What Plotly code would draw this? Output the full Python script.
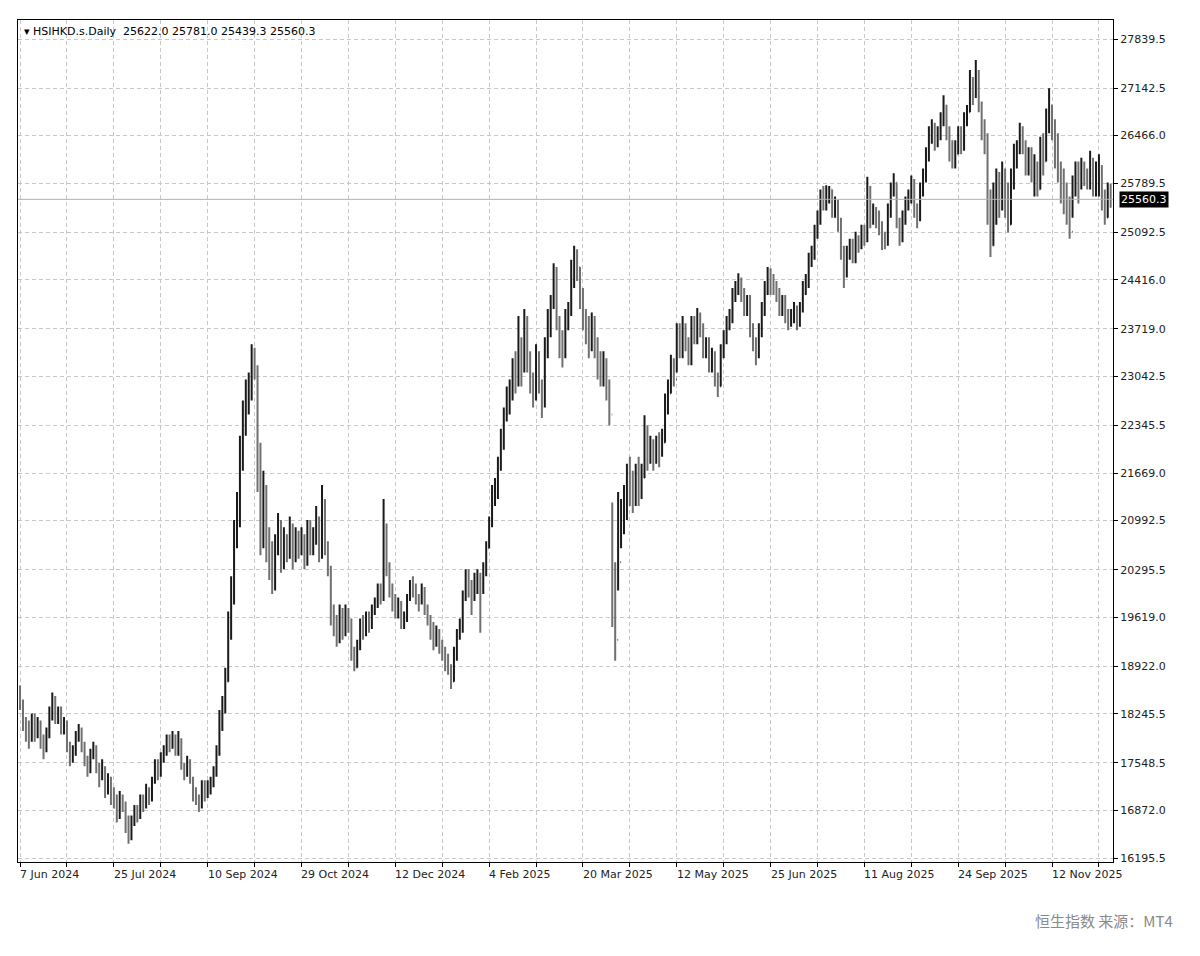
import plotly.graph_objects as go

close = [
18400,18100,18000,17900,18150,18000,18100,17800,17750,17950,18200,18450,18200,18300,18050,18100,17800,17600,17700,17900,18000,17800,17600,17450,17650,17750,17500,17350,17450,17150,17300,17100,
17000,16800,17050,16950,16700,16500,16700,16850,16800,17000,16950,17150,17050,17300,17500,17400,17650,17700,17850,17800,17900,17700,17850,17500,17400,17550,17300,17100,17050,16950,17200,17100,
17150,17250,17400,17700,18100,18300,18700,19500,19900,20700,21050,21900,22300,22700,22800,23300,23100,22000,20900,21400,20800,20500,20100,20600,20900,20400,20700,20600,20900,20450,20700,20600,
20700,20400,20900,20600,20750,21000,20500,21200,20600,20300,19600,19500,19300,19700,19400,19650,19500,19100,18900,19200,19500,19450,19600,19500,19700,19800,20000,19900,20900,20300,20000,19900,
19700,19800,19500,19600,19900,20100,20050,19900,19850,20000,19700,19600,19500,19300,19400,19200,19100,19000,18900,18700,19100,19350,19500,19900,20200,20050,19900,20100,20200,20000,20350,20600,
21000,21400,21500,21800,22100,22500,22700,22900,23200,23000,23500,23200,23800,23300,23000,22800,23300,22900,22700,23500,23800,24100,24500,23800,23500,23400,23800,24000,24500,24700,24600,24200,
23900,23700,23600,23800,23500,23300,23100,23200,22900,22500,20200,19300,20400,20900,21100,21600,21500,21300,21700,21400,21600,22300,21900,22000,21900,22100,21950,22100,22600,22800,23200,23000,
23600,23400,23700,23500,23300,23800,23600,23900,23700,23400,23500,23200,23300,23000,22900,23400,23600,23800,23900,24200,24300,24400,24200,24000,24100,23700,23500,23400,23700,24000,24300,24500,
24400,24300,24200,24000,24100,23900,23800,23900,24000,23800,24000,24300,24400,24700,24800,25100,25300,25600,25500,25650,25700,25400,25500,25200,24800,24500,24800,24900,24700,25000,24900,25100,
25000,25700,25300,25400,25300,25200,25000,24950,25400,25700,25800,25200,25000,25300,25500,25600,25800,25400,25300,25700,25900,26200,26500,26550,26400,26500,26700,26900,26500,26300,26100,26200,
26500,26300,26700,26800,27200,27100,27300,26900,26500,26400,25500,24900,25300,25800,25600,25900,25500,25200,25800,26100,26300,26500,26300,26000,26200,25900,26000,25700,26300,26100,26700,26900,
26600,26300,26000,25900,25700,25400,25100,25700,25900,25800,26000,25900,25800,26100,25700,25900,26000,25500,25300,25600,25560.3]

high = [
18650,18450,18200,18150,18250,18250,18200,18150,17950,18050,18350,18550,18500,18350,18350,18200,18150,17850,17800,18000,18100,18050,17850,17650,17750,17850,17800,17550,17600,17500,17400,17350,
17200,17100,17150,17100,17000,16800,16800,16950,16950,17100,17100,17250,17200,17350,17600,17600,17700,17800,17950,17950,18000,17950,18000,17900,17550,17650,17600,17350,17200,17100,17300,17300,
17300,17350,17500,17800,18300,18500,18900,19700,20200,21000,21400,22200,22700,23000,23100,23500,23450,23200,22100,21700,21500,20900,20700,20800,21100,21000,20900,20800,21050,20950,20900,20850,
20900,20800,21000,21000,20900,21200,21050,21500,21300,20700,20350,19800,19650,19800,19750,19800,19750,19600,19200,19300,19600,19650,19700,19700,19800,19900,20100,20100,21300,20950,20400,20100,
19950,19900,19850,19700,19950,20150,20200,20100,19950,20100,20050,19800,19650,19550,19500,19450,19300,19200,19100,18950,19200,19450,19600,20000,20300,20300,20150,20250,20300,20250,20400,20700,
21050,21500,21600,21900,22300,22600,22900,23000,23300,23400,23900,23600,24000,23900,23400,23100,23500,23400,23000,23600,24000,24200,24650,24600,23900,23700,24000,24100,24700,24900,24850,24600,
24300,24000,23900,23950,23900,23600,23400,23400,23300,23000,21250,20400,21400,21300,21500,21800,21900,21700,21800,21900,21800,22490,22350,22200,22150,22200,22250,22300,22800,23000,23350,23300,
23800,23800,23900,23800,23600,23900,23900,24015,23950,23800,23600,23600,23450,23400,23100,23500,23700,23900,24000,24300,24400,24510,24450,24300,24200,24200,23800,23600,23800,24100,24400,24600,
24580,24500,24400,24300,24200,24200,24000,24000,24100,24050,24100,24400,24500,24800,24900,25200,25400,25700,25750,25760,25750,25700,25600,25550,25300,24900,24900,25000,25000,25100,25050,25200,
25200,25880,25750,25500,25450,25400,25250,25100,25500,25800,25930,25800,25300,25400,25600,25700,25900,25850,25500,25800,26000,26300,26600,26700,26650,26600,26800,27040,26900,26600,26400,26400,
26600,26600,26800,26900,27400,27300,27540,27400,26950,26700,26500,25700,25800,26000,25950,26100,26000,25800,26000,26350,26400,26650,26600,26400,26300,26300,26200,26100,26450,26500,26850,27140,
26900,26700,26500,26100,26000,25800,25600,25900,26100,26100,26150,26100,26000,26250,26150,26100,26200,26050,25700,25800,25781]

low = [
18300,18000,17850,17750,17850,17850,17900,17750,17600,17700,17900,18150,18100,18100,17950,17950,17700,17500,17550,17650,17850,17700,17500,17350,17400,17600,17400,17200,17300,17050,17100,16950,
16900,16700,16750,16850,16550,16400,16450,16650,16700,16750,16850,16900,16950,17000,17250,17300,17350,17550,17650,17700,17750,17650,17650,17450,17300,17350,17250,17000,16950,16850,16900,17000,
17050,17100,17200,17350,17650,18000,18250,18700,19300,19800,20600,20900,21700,22200,22500,22700,23000,21400,20500,20600,20400,20150,19950,20000,20500,20250,20300,20400,20450,20300,20400,20450,
20500,20300,20350,20500,20500,20650,20400,20450,20500,20200,19500,19350,19200,19250,19300,19350,19400,19000,18850,18900,19150,19300,19350,19400,19450,19650,19750,19800,19850,20200,19900,19700,
19600,19600,19450,19450,19550,19850,19900,19800,19700,19800,19650,19500,19300,19150,19200,19100,19000,18850,18800,18600,18700,19000,19300,19400,19850,19900,19650,19850,19950,19400,19950,20200,
20600,20900,21200,21300,21700,22000,22400,22500,22700,22800,22900,22900,23100,23100,22800,22600,22700,22800,22450,22600,23300,23600,24000,23700,23300,23170,23300,23700,23900,24300,24400,24000,
23700,23500,23300,23400,23300,23000,22900,22900,22700,22350,19480,19000,20000,20600,20800,21000,21200,21100,21200,21200,21300,21600,21700,21800,21700,21800,21750,21900,22100,22500,22800,22900,
23100,23300,23300,23400,23200,23200,23500,23500,23600,23300,23300,23100,23100,22900,22750,22900,23300,23500,23700,23800,24100,24200,24100,23900,23900,23600,23400,23200,23300,23600,23900,24200,
24200,24200,24100,23900,23900,23800,23700,23750,23800,23700,23750,23950,24200,24300,24600,24700,25000,25200,25400,25400,25500,25300,25300,25100,24700,24300,24450,24700,24650,24650,24800,24850,
24900,24950,25150,25200,25150,25050,24840,24850,24900,25300,25600,25150,24900,24950,25200,25400,25500,25300,25150,25250,25600,25800,26100,26350,26250,26300,26400,26600,26400,26100,26000,26000,
26200,26200,26250,26600,26800,26900,27000,26800,26400,26200,25200,24740,24900,25200,25300,25400,25300,25090,25200,25700,26000,26200,26200,25900,25900,25800,25600,25600,25700,25900,26100,26500,
26400,26000,25800,25500,25350,25200,25000,25300,25600,25500,25700,25750,25700,25700,25600,25600,25600,25400,25200,25300,25439.3]

first_open = 18600
last_open = 25622.0
open_ = [first_open] + close[:-1]
open_[-1] = last_open

x_labels = ["7 Jun 2024", "25 Jul 2024", "10 Sep 2024", "29 Oct 2024", "12 Dec 2024", "4 Feb 2025",
            "20 Mar 2025", "12 May 2025", "25 Jun 2025", "11 Aug 2025", "24 Sep 2025", "12 Nov 2025"]
y_ticks = [27839.5, 27142.5, 26466.0, 25789.5, 25092.5, 24416.0, 23719.0, 23042.5, 22345.5,
           21669.0, 20992.5, 20295.5, 19619.0, 18922.0, 18245.5, 17548.5, 16872.0, 16195.5]
current = 25560.3

n = len(close)
xs = list(range(n))

fig = go.Figure()
fig.add_trace(go.Ohlc(
    x=xs, open=open_, high=high, low=low, close=close,
    increasing=dict(line=dict(color="#1a1a1a", width=2)),
    decreasing=dict(line=dict(color="#707070", width=2)),
    tickwidth=0.2, showlegend=False, hoverinfo="skip"))

fig.add_hline(y=current, line=dict(color="#b0b0b0", width=1))

for i, lab in enumerate(x_labels):
    fig.add_annotation(x=i * 32 - 0.7, y=0, yref="paper", text=lab, showarrow=False,
                       xanchor="left", yanchor="top", yshift=-4,
                       font=dict(family="DejaVu Sans", size=11, color="#222"))

fig.add_annotation(x=1, xref="paper", y=current, text="25560.3", showarrow=False,
                   xanchor="left", xshift=6, bgcolor="#000000",
                   font=dict(family="DejaVu Sans", size=11, color="#ffffff"), borderpad=1)

fig.add_annotation(x=0, xref="paper", y=1, yref="paper", xanchor="left", yanchor="top",
                   xshift=4, yshift=-3, showarrow=False,
                   text="▾ HSIHKD.s.Daily  25622.0 25781.0 25439.3 25560.3",
                   font=dict(family="DejaVu Sans", size=11, color="#000"))

fig.add_annotation(xref="paper", x=1.0566, y=-0.07, yref="paper", showarrow=False,
                   xanchor="right", yanchor="middle", text="恒生指数 来源：MT4",
                   font=dict(family="Noto Sans CJK SC", size=15, color="#8a8a8a"))

fig.update_layout(
    width=1192, height=948, paper_bgcolor="white", plot_bgcolor="white",
    margin=dict(l=10, r=87, t=12, b=94, autoexpand=False),
    xaxis=dict(range=[-0.7, n - 0.2], rangeslider=dict(visible=False),
               tickvals=list(range(0, n, 16)), ticktext=[""] * len(range(0, n, 16)),
               ticks="outside", ticklen=4, tickcolor="#000",
               showgrid=True, gridcolor="#c8c8c8", griddash="4px,3px", gridwidth=1,
               zeroline=False, showline=True, linecolor="#000", linewidth=1, mirror=True),
    yaxis=dict(range=[16139, 28110], side="right", tickvals=y_ticks,
               ticktext=[f"{v:.1f}" for v in y_ticks],
               ticks="outside", ticklen=4, tickcolor="#000",
               tickfont=dict(family="DejaVu Sans", size=11, color="#222"),
               showgrid=True, gridcolor="#c8c8c8", griddash="4px,3px", gridwidth=1,
               zeroline=False, showline=True, linecolor="#000", linewidth=1, mirror=True),
)

fig.write_html("out.html")
